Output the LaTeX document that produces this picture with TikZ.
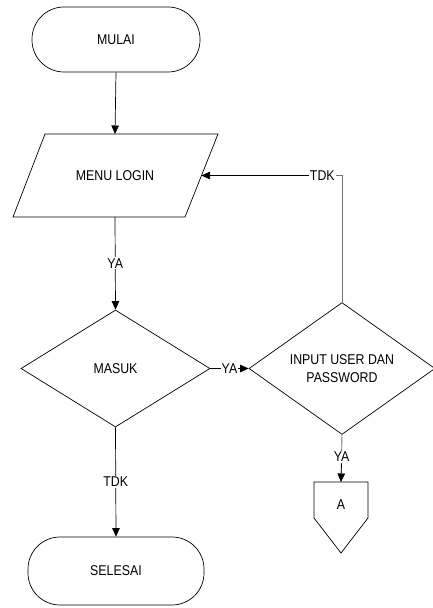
\documentclass[tikz,border=0pt]{standalone}
\usepackage{fontspec}
\setmainfont{Liberation Sans}[FakeStretch=0.87]
\usetikzlibrary{shapes.geometric,arrows.meta}

\begin{document}
\begin{tikzpicture}[x=1pt,y=-1pt,
  every node/.style={font=\fontsize{14.2}{17.5}\selectfont},
  terminal/.style={draw,rectangle,rounded corners=32pt,line width=0.7pt,inner sep=0pt},
  decision/.style={draw,diamond,line width=0.7pt,inner sep=0pt,align=center},
  outline/.style={draw,line width=0.7pt,line join=miter},
  flow/.style={line width=0.7pt,-{Triangle[length=8.5pt,width=7.5pt]}},
  soft/.style={draw=black!55,line width=0.9pt},
  tag/.style={fill=white,inner sep=1pt}]

  \useasboundingbox (0,0) rectangle (432,608);

  % start / end terminals
  \node[terminal,minimum width=168pt,minimum height=65pt] (mulai) at (116,39.5) {MULAI};
  \node[terminal,minimum width=176pt,minimum height=68pt] (selesai) at (116,571) {SELESAI};

  % input/output parallelogram for the login menu
  \coordinate (login-tl) at (45,134);
  \coordinate (login-tr) at (218,134);
  \coordinate (login-br) at (185,217);
  \coordinate (login-bl) at (13,217);
  \coordinate (login-n) at (115,134);
  \coordinate (login-s) at (115,217);
  \coordinate (login-e) at (201.5,175.5);
  \path[outline] (login-tl) -- (login-tr) -- (login-br) -- (login-bl) -- cycle;
  \node (login) at (115,175.5) {MENU LOGIN};

  % decisions
  \node[decision,minimum width=189pt,minimum height=117pt] (masuk) at (115.5,368.5) {MASUK};
  \node[decision,minimum width=186pt,minimum height=117pt] (input) at (342,368.5)
    {INPUT USER DAN\\PASSWORD};

  % off-page connector
  \coordinate (off-n) at (341,482);
  \path[outline] (314,482) -- (368,482) -- (368,518) -- (341,553) -- (314,518) -- cycle;
  \node (offA) at (341,505) {A};

  % connectors
  \draw[flow] (mulai.south) -- (login-n);
  \draw[flow] (login-s) -- node[tag] {YA} (masuk.north);
  \draw[flow] (masuk.south) -- node[tag] {TDK} (selesai.north);
  \draw[flow] (masuk.east) -- node[tag] {YA} (input.west);
  \draw[soft] (input.north) |- node[tag,pos=0.57] (tdk) {TDK} (login-e);
  \draw[flow] (tdk.west) -- (login-e);
  \draw[soft] (input.south) -- (off-n) node[tag,pos=0.47] (ya2) {YA};
  \draw[flow] (ya2.south) -- (off-n);
\end{tikzpicture}
\end{document}
